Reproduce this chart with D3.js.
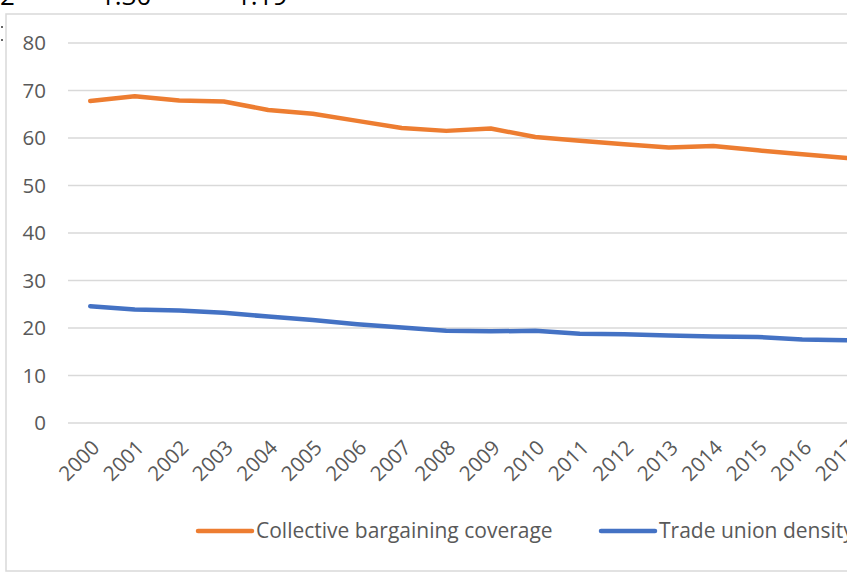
<!DOCTYPE html>
<html>
<head>
<meta charset="utf-8">
<script src="https://cdn.jsdelivr.net/npm/d3@7"></script>
<style>
  body { margin: 0; background: #fff; }
  svg { display: block; font-family: "Open Sans", sans-serif; }
</style>
</head>
<body>
<div id="chart"></div>
<script>
var years = ["2000","2001","2002","2003","2004","2005","2006","2007","2008","2009","2010","2011","2012","2013","2014","2015","2016","2017"];
var bargaining = [67.8, 68.8, 67.9, 67.7, 65.9, 65.1, 63.6, 62.1, 61.5, 62.0, 60.2, 59.4, 58.7, 58.0, 58.3, 57.4, 56.6, 55.8];
var density = [24.6, 23.9, 23.7, 23.2, 22.4, 21.7, 20.8, 20.1, 19.4, 19.3, 19.4, 18.8, 18.7, 18.4, 18.2, 18.1, 17.6, 17.4];
var yTicks = [0, 10, 20, 30, 40, 50, 60, 70, 80];
var seriesNames = ["Collective bargaining coverage", "Trade union density"];
var seriesColors = ["#ED7D31", "#4472C4"];
var topFragments = [["2", 0], ["1.30", 100], ["1.19", 236]];

var W = 854, H = 575;
var font = "'Open Sans', sans-serif";
var svg = d3.select("#chart").append("svg")
  .attr("width", W)
  .attr("height", H);

svg.append("clipPath").attr("id", "crop")
  .append("rect").attr("x", 0).attr("y", 0).attr("width", 847).attr("height", H);

var root = svg.append("g").attr("clip-path", "url(#crop)");

// bits of the table above the chart, cut off by the crop
root.selectAll(".frag")
  .data(topFragments)
  .enter().append("text")
  .attr("x", function (d) { return d[1]; })
  .attr("y", 5)
  .attr("font-size", 26)
  .attr("fill", "#000")
  .text(function (d) { return d[0]; });

root.append("circle").attr("cx", 2).attr("cy", 27).attr("r", 1).attr("fill", "#333");
root.append("circle").attr("cx", 2).attr("cy", 40).attr("r", 1).attr("fill", "#333");

// chart frame
root.append("rect")
  .attr("x", 6).attr("y", 14)
  .attr("width", 900).attr("height", 557)
  .attr("fill", "none")
  .attr("stroke", "#d9d9d9")
  .attr("stroke-width", 1.5);

var left = 68, right = 869;
var x = d3.scalePoint().domain(years).range([left, right]).padding(0.5);
var y = d3.scaleLinear().domain([0, 80]).range([423, 43]);

// gridlines
root.selectAll(".grid")
  .data(yTicks)
  .enter().append("line")
  .attr("x1", left).attr("x2", right)
  .attr("y1", function (d) { return y(d); })
  .attr("y2", function (d) { return y(d); })
  .attr("stroke", "#d9d9d9")
  .attr("stroke-width", 1.5);

var yAxis = root.append("g")
  .attr("transform", "translate(" + (left - 22) + ",0)")
  .call(d3.axisLeft(y).tickValues(yTicks).tickSize(0).tickPadding(0));
yAxis.select(".domain").remove();
yAxis.selectAll("text")
  .attr("font-family", font)
  .attr("font-size", 20.5)
  .attr("fill", "#595959");

var xAxis = root.append("g")
  .attr("transform", "translate(0,423)")
  .call(d3.axisBottom(x).tickSize(0).tickPadding(0));
xAxis.select(".domain").remove();
xAxis.selectAll("text")
  .attr("font-family", font)
  .attr("font-size", 20.5)
  .attr("fill", "#595959")
  .attr("text-anchor", "end")
  .attr("dy", null)
  .attr("y", 0)
  .attr("transform", "translate(10,26) rotate(-45)");

var line = d3.line()
  .x(function (d, i) { return x(years[i]); })
  .y(function (d) { return y(d); });

[bargaining, density].forEach(function (s, i) {
  root.append("path")
    .datum(s)
    .attr("d", line)
    .attr("fill", "none")
    .attr("stroke", seriesColors[i])
    .attr("stroke-width", 4.5)
    .attr("stroke-linejoin", "round")
    .attr("stroke-linecap", "round");
});

// legend
var legendX = [198, 601];
var legend = root.selectAll(".legend")
  .data(seriesNames)
  .enter().append("g")
  .attr("transform", function (d, i) { return "translate(" + legendX[i] + ",531)"; });
legend.append("line")
  .attr("x1", 0).attr("x2", 54)
  .attr("stroke", function (d, i) { return seriesColors[i]; })
  .attr("stroke-width", 4.5)
  .attr("stroke-linecap", "round");
legend.append("text")
  .attr("x", 58)
  .attr("dy", "0.35em")
  .attr("font-family", font)
  .attr("font-size", 21)
  .attr("fill", "#595959")
  .text(function (d) { return d; });
</script>
</body>
</html>
